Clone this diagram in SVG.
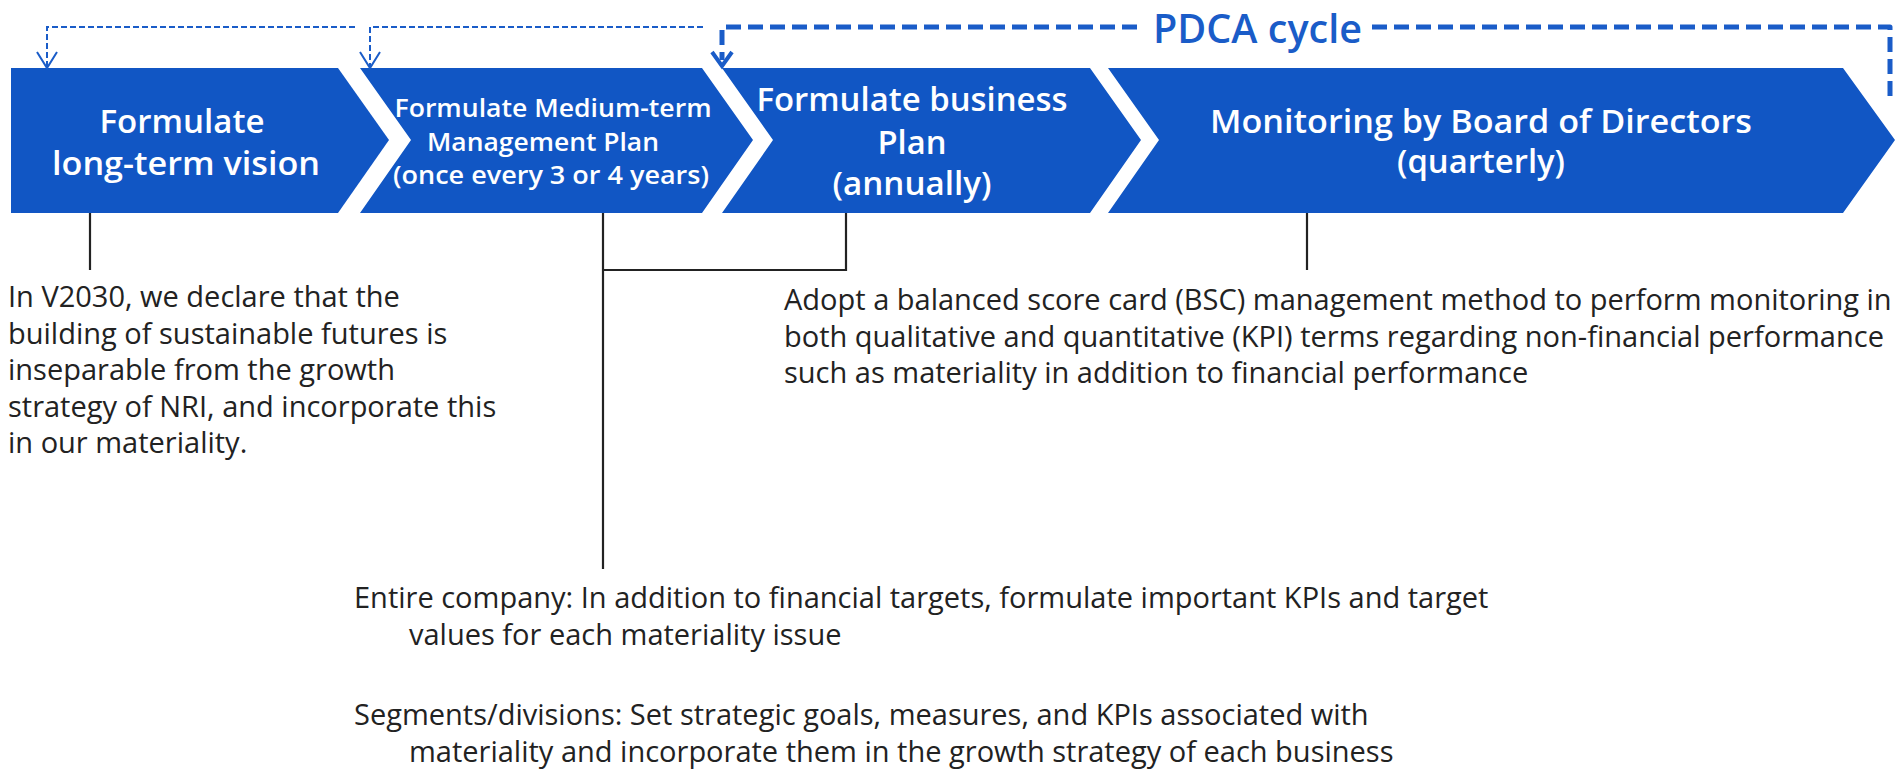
<svg xmlns="http://www.w3.org/2000/svg" width="1898" height="773" viewBox="0 0 1898 773">
<style>
.box{fill:#1156c4}
.bt{fill:#fff;font-family:"Open Sans","Noto Sans",sans-serif;font-weight:600;text-anchor:middle}
.body{fill:#222;font-family:"Open Sans","Noto Sans",sans-serif;font-size:29px}
.conn{stroke:#222;stroke-width:2.2;fill:none}
.thin{stroke:#1a5cc8;stroke-width:2;fill:none;stroke-dasharray:6 3}
.thick{stroke:#1a5cc8;stroke-width:5;fill:none;stroke-dasharray:15 7}
.ah{stroke:#1a5cc8;fill:none;stroke-linejoin:miter}
</style>
<rect width="1898" height="773" fill="#fff"/>
<g id="node-vision">
<polygon class="box" points="11,68 338,68 389,140 338,213 11,213"/>
<text class="bt" font-size="32" x="182" y="133" textLength="165" lengthAdjust="spacingAndGlyphs">Formulate</text>
<text class="bt" font-size="32" x="186" y="175" textLength="268" lengthAdjust="spacingAndGlyphs">long-term vision</text>
</g>
<g id="node-midterm">
<polygon class="box" points="360,68 702,68 753,140 702,213 360,213 411,140"/>
<text class="bt" font-size="26" x="553" y="117" textLength="317" lengthAdjust="spacingAndGlyphs">Formulate Medium-term</text>
<text class="bt" font-size="26" x="543" y="151" textLength="232" lengthAdjust="spacingAndGlyphs">Management Plan</text>
<text class="bt" font-size="26" x="551" y="184" textLength="316" lengthAdjust="spacingAndGlyphs">(once every 3 or 4 years)</text>
</g>
<g id="node-business">
<polygon class="box" points="722,68 1090,68 1141,140 1090,213 722,213 773,140"/>
<text class="bt" font-size="33" x="912" y="111" textLength="311" lengthAdjust="spacingAndGlyphs">Formulate business</text>
<text class="bt" font-size="33" x="912" y="154" textLength="69" lengthAdjust="spacingAndGlyphs">Plan</text>
<text class="bt" font-size="33" x="912" y="195" textLength="159" lengthAdjust="spacingAndGlyphs">(annually)</text>
</g>
<g id="node-monitoring">
<polygon class="box" points="1108,68 1843,68 1895,140 1843,213 1108,213 1159,140"/>
<text class="bt" font-size="32" x="1481" y="133" textLength="542" lengthAdjust="spacingAndGlyphs">Monitoring by Board of Directors</text>
<text class="bt" font-size="32" x="1481" y="173" textLength="168" lengthAdjust="spacingAndGlyphs">(quarterly)</text>
</g>
<g id="pdca-label">
<text x="1153" y="43" font-family="'Open Sans','Noto Sans',sans-serif" font-size="40" font-weight="600" fill="#1a5cc8" textLength="209" lengthAdjust="spacingAndGlyphs">PDCA cycle</text>
</g>
<g id="connectors">
<path class="thin" d="M355,27 H47 V66"/>
<path class="ah" stroke-width="2" d="M37,52 L47,68 L57,52"/>
<path class="thin" d="M703,27 H370 V66"/>
<path class="ah" stroke-width="2" d="M360,52 L370,68 L380,52"/>
<path class="thick" d="M1137,27 H722 V60"/>
<path class="ah" stroke-width="4" d="M712,52 L722,66 L732,52"/>
<path class="thick" d="M1372,27 H1890 V97" stroke-linejoin="round"/>
<path class="conn" d="M90,213 V270"/>
<path class="conn" d="M603,213 V569"/>
<path class="conn" d="M846,213 V270 H603"/>
<path class="conn" d="M1307,213 V270"/>
</g>
<g id="text-vision">
<text class="body" x="8" y="307">In V2030, we declare that the</text>
<text class="body" x="8" y="344">building of sustainable futures is</text>
<text class="body" x="8" y="380">inseparable from the growth</text>
<text class="body" x="8" y="417">strategy of NRI, and incorporate this</text>
<text class="body" x="8" y="453">in our materiality.</text>
</g>
<g id="text-monitoring">
<text class="body" x="784" y="310">Adopt a balanced score card (BSC) management method to perform monitoring in</text>
<text class="body" x="784" y="347">both qualitative and quantitative (KPI) terms regarding non-financial performance</text>
<text class="body" x="784" y="383">such as materiality in addition to financial performance</text>
</g>
<g id="text-plans">
<text class="body" x="354" y="608">Entire company: In addition to financial targets, formulate important KPIs and target</text>
<text class="body" x="409" y="645">values for each materiality issue</text>
<text class="body" x="354" y="725">Segments/divisions: Set strategic goals, measures, and KPIs associated with</text>
<text class="body" x="409" y="762">materiality and incorporate them in the growth strategy of each business</text>
</g>
</svg>
